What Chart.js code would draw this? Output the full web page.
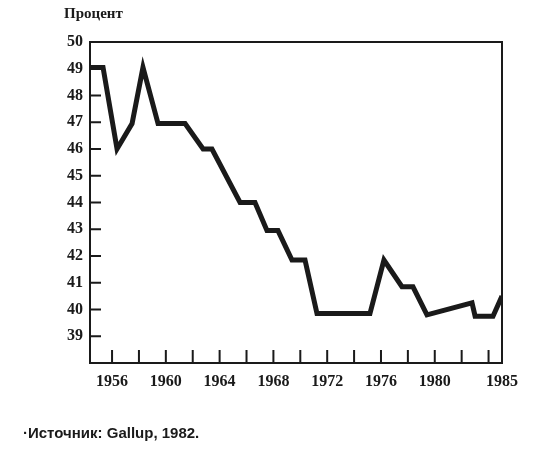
<!DOCTYPE html>
<html>
<head>
<meta charset="utf-8">
<script src="https://cdn.jsdelivr.net/npm/chart.js@4/dist/chart.umd.min.js"></script>
<style>
  html, body { margin: 0; padding: 0; background: #fff; }
  #wrap { position: relative; width: 558px; height: 450px; }
  #c { position: absolute; left: 0; top: 0; }
  .txt { position: absolute; font-family: "Liberation Serif", "DejaVu Serif", serif; font-weight: bold; color: #1a1a1a; white-space: nowrap; }
</style>
</head>
<body>
<div id="wrap">
  <canvas id="c" width="558" height="450"></canvas>
  <div class="txt" style="left:64px; top:5px; font-size:15px;">Процент</div>
  <div class="txt" style="left:23px; top:424px; font-size:15px; font-family:'Liberation Sans', Arial, sans-serif;">·Источник: Gallup, 1982.</div>
</div>
<script>
// Data (year, percent)
const years = [1954.36, 1955.33, 1956.37, 1957.49, 1958.3, 1959.42, 1961.43, 1962.77, 1963.43,
               1965.52, 1966.63, 1967.52, 1968.34, 1969.38, 1970.35, 1971.24, 1975.18, 1976.22,
               1977.56, 1978.38, 1979.42, 1982.77, 1983.0, 1984.33, 1985.0];
const percent = [49.05, 49.05, 46.0, 46.95, 49.05, 46.95, 46.95, 46.0, 46.0,
                 44.0, 44.0, 42.95, 42.95, 41.85, 41.85, 39.85, 39.85, 41.85,
                 40.85, 40.85, 39.8, 40.25, 39.75, 39.75, 40.5];
const xTickValues = [1956, 1958, 1960, 1962, 1964, 1966, 1968, 1970, 1972, 1974, 1976, 1978, 1980, 1982, 1984, 1985];
const xTickLabels = ['1956', '1960', '1964', '1968', '1972', '1976', '1980', '1985'];
const yTickValues = [38, 39, 40, 41, 42, 43, 44, 45, 46, 47, 48, 49, 50];
const yTickLabels = ['39', '40', '41', '42', '43', '44', '45', '46', '47', '48', '49', '50'];

const ink = '#1a1a1a';
const points = years.map((y, i) => ({ x: y, y: percent[i] }));

const frameAndTicks = {
  id: 'frameAndTicks',
  afterDatasetsDraw(chart) {
    const { ctx, chartArea: a, scales: { x, y } } = chart;
    ctx.save();
    ctx.strokeStyle = ink;
    ctx.lineWidth = 2;
    ctx.strokeRect(a.left, a.top, a.right - a.left, a.bottom - a.top);
    ctx.beginPath();
    yTickValues.forEach(v => {
      if (v <= 38 || v >= 50) return;
      const py = y.getPixelForValue(v);
      ctx.moveTo(a.left, py); ctx.lineTo(a.left + 11, py);
    });
    xTickValues.forEach(v => {
      if (v >= 1985) return;
      const px = x.getPixelForValue(v);
      ctx.moveTo(px, a.bottom); ctx.lineTo(px, a.bottom - 13);
    });
    ctx.stroke();
    ctx.restore();
  }
};

new Chart(document.getElementById('c'), {
  type: 'line',
  data: {
    datasets: [{
      data: points,
      borderColor: ink,
      borderWidth: 5,
      pointRadius: 0,
      tension: 0,
      borderJoinStyle: 'miter',
      fill: false
    }]
  },
  options: {
    responsive: false,
    animation: false,
    layout: { padding: { left: 0, right: 56, top: 42, bottom: 50 } },
    plugins: { legend: { display: false }, tooltip: { enabled: false } },
    scales: {
      x: {
        type: 'linear',
        min: 1954.36,
        max: 1985,
        afterBuildTicks(scale) { scale.ticks = xTickValues.map(v => ({ value: v })); },
        afterFit(scale) { scale.height = 37; },
        grid: { display: false, drawTicks: false },
        border: { display: false },
        ticks: {
          autoSkip: false,
          maxRotation: 0,
          padding: 9,
          color: ink,
          font: { family: 'Liberation Serif', size: 16, weight: 'bold' },
          callback(v) { const s = String(v); return xTickLabels.includes(s) ? s : ''; }
        }
      },
      y: {
        type: 'linear',
        min: 38,
        max: 50,
        afterBuildTicks(scale) { scale.ticks = yTickValues.map(v => ({ value: v })); },
        afterFit(scale) { scale.width = 90; },
        grid: { display: false, drawTicks: false },
        border: { display: false },
        ticks: {
          autoSkip: false,
          padding: 7,
          color: ink,
          font: { family: 'Liberation Serif', size: 16, weight: 'bold' },
          callback(v) { const s = String(v); return yTickLabels.includes(s) ? s : ''; }
        }
      }
    }
  },
  plugins: [frameAndTicks]
});
</script>
</body>
</html>
